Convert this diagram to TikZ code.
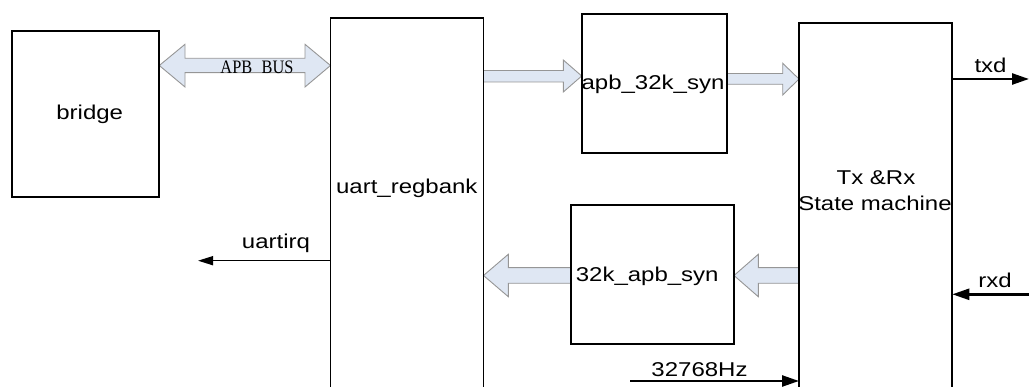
\documentclass[tikz,border=0pt]{standalone}
\usepackage{fontspec}
\setmainfont{Liberation Sans}[FakeStretch=1.2]
\newfontfamily\apbfont{Liberation Serif}[FakeStretch=0.86]
\usetikzlibrary{arrows.meta}
\definecolor{arrowfill}{RGB}{223,231,243}
\definecolor{arrowline}{RGB}{150,150,150}
\pgfdeclarelayer{bg}
\pgfsetlayers{bg,main}
\begin{document}
\begin{tikzpicture}[x=1pt,y=-1pt,
  box/.style={draw, line width=1.8pt, outer sep=0pt, inner sep=0pt, anchor=north west},
  lbl/.style={inner sep=0pt, anchor=base, font=\fontsize{20}{24}\selectfont},
  barrow/.style={fill=arrowfill, draw=arrowline, line width=0.9pt, line join=miter},
  sig/.style={line width=2.5pt, -{Triangle[length=17pt,width=11pt]}},
  thinsig/.style={line width=1.5pt, -{Triangle[length=15pt,width=9pt]}}]
\useasboundingbox (0,0) rectangle (1029,387);
% boxes
\node[box, minimum width=147pt, minimum height=166pt] (bridge) at (12.3,31) {};
\node[box, minimum width=153pt, minimum height=390pt] (reg) at (330.5,17.7) {};
\node[box, minimum width=145.6pt, minimum height=139pt] (apb) at (581.7,14.3) {};
\node[box, minimum width=163.3pt, minimum height=139.3pt] (syn) at (570.7,205) {};
\node[box, minimum width=153.3pt, minimum height=380pt] (tx) at (799,22.7) {};
% labels
\node[lbl] (bridgelbl) at (89.7,120) {bridge};
\node[lbl] (reglbl) at (406.8,193.3) {uart\_regbank};
\node[lbl] (apblbl) at (653,90) {apb\_32k\_syn};
\node[lbl] (synlbl) at (647.2,281.7) {32k\_apb\_syn};
\node[lbl] (txlbl1) at (876,185) {Tx \&Rx};
\node[lbl] (txlbl2) at (875,210.7) {State machine};
\node[lbl] (txdlbl) at (990.5,72.7) {txd};
\node[lbl] (rxdlbl) at (995,287.3) {rxd};
\node[lbl] (irqlbl) at (276,248.3) {uartirq};
\node[lbl] (clklbl) at (699.5,376.7) {32768Hz};
\node[inner sep=0pt, anchor=base, font=\apbfont\fontsize{19}{22}\selectfont] (buslbl) at (257,73.3) {APB\hspace{0.5em}BUS};
% block arrows
\begin{pgfonlayer}{bg}
\draw[barrow] (bridge.east |- 0,65.5) -- (185,44.3) -- (185,58.3) -- (305,58.3) -- (305,44.3)
  -- (reg.west |- 0,65.5) -- (305,87) -- (305,72.7) -- (185,72.7) -- (185,87) -- cycle;
\draw[barrow] (reg.east |- 0,70.5) -- (563.3,70.5) -- (563.3,60) -- (apb.west |- 0,76)
  -- (563.3,92) -- (563.3,82) -- (reg.east |- 0,82) -- cycle;
\draw[barrow] (apb.east |- 0,73.5) -- (782.7,73.5) -- (782.7,63.3) -- (tx.west |- 0,79)
  -- (782.7,95) -- (782.7,84.3) -- (apb.east |- 0,84.3) -- cycle;
\draw[barrow] (reg.east |- 0,275.5) -- (508.3,254.3) -- (508.3,267.7) -- (syn.west |- 0,267.7)
  -- (syn.west |- 0,283.3) -- (508.3,283.3) -- (508.3,296.7) -- cycle;
\draw[barrow] (syn.east |- 0,275.5) -- (758.3,254.3) -- (758.3,267.7) -- (tx.west |- 0,267.7)
  -- (tx.west |- 0,283.3) -- (758.3,283.3) -- (758.3,296.7) -- cycle;
\end{pgfonlayer}
% signals
\coordinate (txdend) at (1029,79);
\draw[sig] (tx.east |- txdend) -- (txdend);
\coordinate (rxdstart) at (1029,294.3);
\draw[sig] (rxdstart) -- (tx.east |- rxdstart);
\coordinate (clkstart) at (630,381);
\draw[sig] (clkstart) -- (tx.west |- clkstart);
\coordinate (irqend) at (198,260.7);
\draw[thinsig] (reg.west |- irqend) -- (irqend);
\end{tikzpicture}
\end{document}
